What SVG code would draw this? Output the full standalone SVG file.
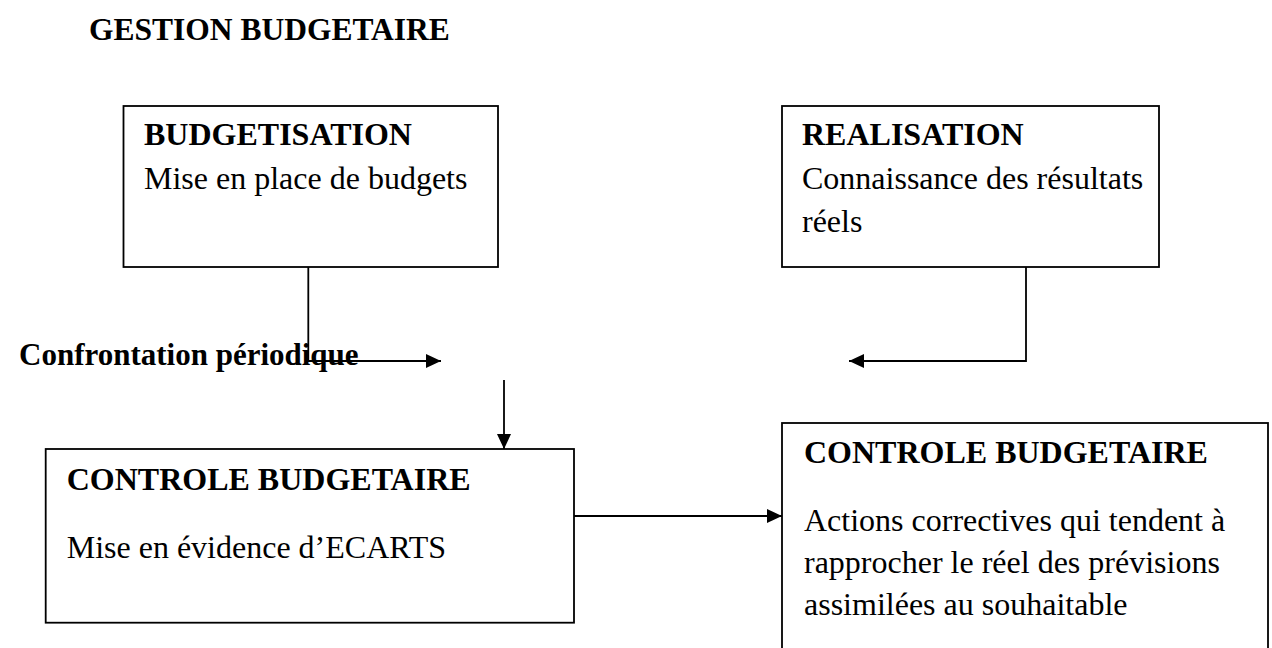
<svg xmlns="http://www.w3.org/2000/svg" width="1272" height="648" viewBox="0 0 1272 648">
  <style>
    .box { fill: #ffffff; stroke: #000000; stroke-width: 1.8; }
    .t { font-family: "Liberation Serif", "Times New Roman", serif; font-size: 32px; fill: #000000; }
    .b { font-weight: bold; }
    .conn { fill: none; stroke: #000000; stroke-width: 1.8; }
  </style>
  <defs>
    <marker id="arrow" markerUnits="userSpaceOnUse" markerWidth="16" markerHeight="15" refX="15" refY="7" orient="auto">
      <path d="M0,0 L15,7 L0,14 z" fill="#000000"/>
    </marker>
  </defs>
  <rect width="1272" height="648" fill="#ffffff"/>

  <g id="title">
    <text class="t b" x="89" y="40" style="font-size:31.5px">GESTION BUDGETAIRE</text>
  </g>

  <g id="budgetisation">
    <rect class="box" x="123.5" y="106" width="374.5" height="161"/>
    <text class="t b" x="144" y="145">BUDGETISATION</text>
    <text class="t" x="144" y="189">Mise en place de budgets</text>
  </g>

  <g id="realisation">
    <rect class="box" x="782" y="106" width="377" height="161"/>
    <text class="t b" x="802" y="145">REALISATION</text>
    <text class="t" x="802" y="189">Connaissance des résultats</text>
    <text class="t" x="802" y="232">réels</text>
  </g>

  <g id="confrontation">
    <text class="t b" x="19" y="365" style="font-size:31px">Confrontation périodique</text>
  </g>

  <g id="controle-ecarts">
    <rect class="box" x="45.7" y="449" width="528.3" height="173.7"/>
    <text class="t b" x="66.7" y="490">CONTROLE BUDGETAIRE</text>
    <text class="t" x="66.7" y="558">Mise en évidence d’ECARTS</text>
  </g>

  <g id="controle-actions">
    <rect class="box" x="782" y="423" width="486" height="260"/>
    <text class="t b" x="804" y="463">CONTROLE BUDGETAIRE</text>
    <text class="t" x="804" y="531">Actions correctives qui tendent à</text>
    <text class="t" x="804" y="573">rapprocher le réel des prévisions</text>
    <text class="t" x="804" y="615">assimilées au souhaitable</text>
  </g>

  <g id="connectors">
    <path class="conn" d="M308.3,267 L308.3,361 L441,361" marker-end="url(#arrow)"/>
    <path class="conn" d="M1026,267 L1026,361 L849,361" marker-end="url(#arrow)"/>
    <path class="conn" d="M504,380 L504,449" marker-end="url(#arrow)"/>
    <path class="conn" d="M574,516 L782,516" marker-end="url(#arrow)"/>
  </g>
</svg>
